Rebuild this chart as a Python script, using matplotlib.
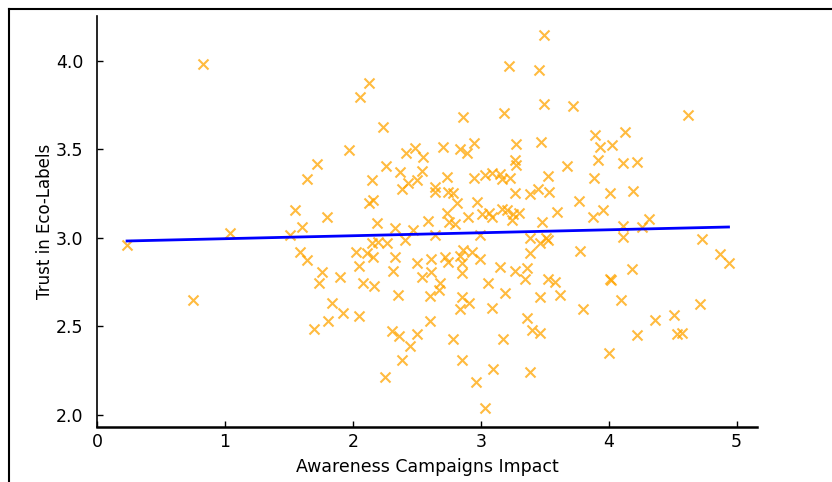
import matplotlib.pyplot as plt
import numpy as np

# Awareness Campaigns Impact (x) vs Trust in Eco-Labels (y)
awareness = [
    0.235, 0.829, 0.751, 1.041, 2.128, 2.058, 2.238, 1.972, 1.721, 1.643,
    2.152, 2.261, 2.418, 2.488, 2.551, 2.371, 2.543, 2.433, 2.504, 2.387,
    2.645, 2.645, 1.549, 1.800, 1.604, 2.128, 2.160, 2.191, 2.332, 2.473,
    2.590, 1.510, 2.645, 1.588, 1.643, 1.761, 1.737, 1.901, 2.027, 2.050,
    2.113, 2.160, 2.152, 2.199, 2.269, 2.081, 2.167, 2.332, 2.316, 2.410,
    2.504, 2.543, 2.613, 2.613, 2.355, 2.606, 1.839, 1.925, 2.050, 1.808,
    1.698, 2.308, 2.363, 2.449, 2.504, 2.387, 2.606, 2.254, 3.498, 3.224,
    3.459, 3.498, 3.725, 2.864, 3.185, 2.707, 2.840, 2.895, 2.950, 3.279,
    3.474, 3.897, 3.271, 3.279, 3.678, 2.739, 2.950, 3.036, 3.091, 3.153,
    3.169, 3.232, 3.529, 3.889, 2.746, 2.786, 2.817, 3.271, 3.388, 3.451,
    3.537, 2.973, 3.772, 2.739, 2.903, 3.013, 3.067, 3.091, 3.169, 3.208,
    3.255, 3.302, 3.247, 2.754, 2.801, 3.599, 3.482, 3.881, 2.997, 3.388,
    3.466, 3.513, 3.529, 3.388, 3.779, 2.723, 2.746, 2.840, 2.864, 2.934,
    2.997, 2.856, 2.856, 3.153, 3.271, 3.365, 3.349, 3.529, 3.584, 3.059,
    2.684, 2.676, 3.192, 3.623, 3.466, 2.856, 2.911, 2.840, 3.091, 3.803,
    3.365, 3.404, 3.466, 2.786, 3.177, 2.856, 3.099, 3.388, 2.966, 3.036,
    4.624, 4.124, 3.936, 4.030, 3.920, 4.116, 4.225, 4.014, 4.194, 3.959,
    4.319, 4.116, 4.264, 4.116, 4.726, 4.867, 4.937, 4.186, 4.014, 4.022,
    4.100, 4.718, 4.507, 4.366, 4.531, 4.570, 4.225, 4.006,
]
trust = [
    2.960, 3.983, 2.650, 3.028, 3.876, 3.797, 3.627, 3.497, 3.418, 3.333,
    3.328, 3.407, 3.480, 3.508, 3.458, 3.373, 3.379, 3.311, 3.328, 3.277,
    3.288, 3.260, 3.158, 3.119, 3.062, 3.198, 3.215, 3.085, 3.056, 3.045,
    3.096, 3.017, 3.017, 2.921, 2.876, 2.808, 2.746, 2.780, 2.921, 2.842,
    2.915, 2.893, 2.972, 2.977, 2.972, 2.746, 2.729, 2.893, 2.814, 2.989,
    2.859, 2.780, 2.881, 2.808, 2.678, 2.672, 2.633, 2.576, 2.559, 2.531,
    2.486, 2.475, 2.446, 2.390, 2.458, 2.311, 2.531, 2.215, 4.147, 3.972,
    3.949, 3.757, 3.746, 3.684, 3.706, 3.514, 3.503, 3.480, 3.537, 3.531,
    3.542, 3.582, 3.441, 3.412, 3.407, 3.345, 3.339, 3.356, 3.367, 3.362,
    3.333, 3.339, 3.350, 3.339, 3.260, 3.254, 3.198, 3.254, 3.249, 3.277,
    3.260, 3.203, 3.209, 3.141, 3.119, 3.136, 3.141, 3.119, 3.164, 3.158,
    3.136, 3.141, 3.102, 3.090, 3.079, 3.147, 3.090, 3.119, 3.017, 3.000,
    2.972, 3.000, 2.989, 2.915, 2.927, 2.893, 2.864, 2.898, 2.932, 2.921,
    2.881, 2.859, 2.802, 2.836, 2.814, 2.831, 2.768, 2.768, 2.751, 2.746,
    2.746, 2.706, 2.689, 2.678, 2.667, 2.667, 2.633, 2.599, 2.605, 2.599,
    2.548, 2.480, 2.463, 2.429, 2.429, 2.311, 2.260, 2.243, 2.186, 2.040,
    3.695, 3.599, 3.514, 3.525, 3.441, 3.424, 3.429, 3.254, 3.266, 3.158,
    3.107, 3.068, 3.062, 3.006, 2.994, 2.910, 2.859, 2.825, 2.768, 2.763,
    2.650, 2.627, 2.565, 2.537, 2.458, 2.463, 2.452, 2.350,
]

# fitted trend line as seen in the chart
fit_intercept = 2.979
fit_slope = 0.0168

x = np.array(awareness)
y = np.array(trust)

fig = plt.figure(figsize=(8.32, 4.82), dpi=100)
ax = fig.add_axes([0.1166, 0.1141, 0.7933, 0.8527])

ax.scatter(x, y, marker='x', color='orange', alpha=0.75, s=52, linewidths=1.5)
xs = np.array([x.min(), x.max()])
ax.plot(xs, fit_intercept + fit_slope * xs, color='blue', linewidth=2)

ax.set_xlim(0, 5.16)
ax.set_ylim(1.932, 4.254)
ax.set_xticks([0, 1, 2, 3, 4, 5])
ax.set_yticks([2.0, 2.5, 3.0, 3.5, 4.0])
ax.set_yticklabels(['2.0', '2.5', '3.0', '3.5', '4.0'])
ax.tick_params(direction='in', length=4, labelsize=12.5, width=1)
ax.tick_params(axis='y', pad=10)
ax.tick_params(axis='x', pad=4)

ax.spines['top'].set_visible(False)
ax.spines['right'].set_visible(False)
ax.spines['left'].set_linewidth(1.2)
ax.spines['bottom'].set_linewidth(1.8)

ax.set_xlabel('Awareness Campaigns Impact', fontsize=12.5, labelpad=5)
ax.set_ylabel('Trust in Eco-Labels', fontsize=12, labelpad=1)

# screenshot frame around the figure
fig.add_artist(plt.Line2D([9 / 832, 1], [1 - 9 / 482, 1 - 9 / 482],
                          transform=fig.transFigure, color='black', linewidth=1.5))
fig.add_artist(plt.Line2D([9 / 832, 9 / 832], [0, 1 - 9 / 482],
                          transform=fig.transFigure, color='black', linewidth=1.5))

fig.savefig('out.png', dpi=100)
